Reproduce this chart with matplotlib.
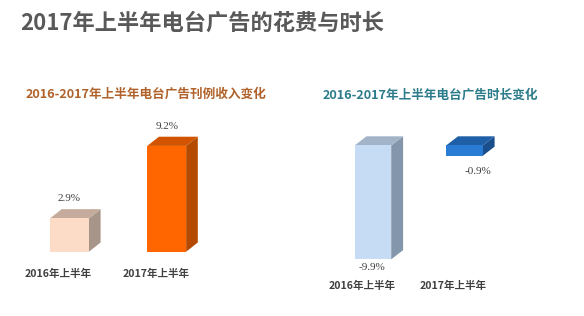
import matplotlib
matplotlib.use("Agg")
import matplotlib.pyplot as plt
from matplotlib.patches import Polygon

plt.rcParams['font.family'] = ['Noto Sans CJK SC', 'DejaVu Sans']

# data
title = '2017年上半年电台广告的花费与时长'
categories = ['2016年上半年', '2017年上半年']

rev_title = '2016-2017年上半年电台广告刊例收入变化'
rev_values = [2.9, 9.2]
rev_labels = ['2.9%', '9.2%']

dur_title = '2016-2017年上半年电台广告时长变化'
dur_values = [-9.9, -0.9]
dur_labels = ['-9.9%', '-0.9%']

W, H = 584, 316
fig = plt.figure(figsize=(W / 100, H / 100), dpi=100)
fig.patch.set_facecolor('white')


def make_axes(box, x0, baseline, px_cat, px_unit):
    # box = (left, top, right, bottom) in pixels; x0 = pixel of category 0
    l, t, r, b = box
    ax = fig.add_axes([l / W, 1 - b / H, (r - l) / W, (b - t) / H])
    ax.set_xlim((l - x0) / px_cat, (r - x0) / px_cat)
    ax.set_ylim((baseline - b) / px_unit, (baseline - t) / px_unit)
    ax.axis('off')
    return ax


def bars3d(ax, values, width, dx, dy, colors):
    for i, v in enumerate(values):
        front, side, top = colors[i]
        hi, lo = max(v, 0), min(v, 0)
        ax.bar(i, v, width=width, color=front, edgecolor='none', zorder=3)
        xr, xl = i + width / 2, i - width / 2
        ax.add_patch(Polygon([(xr, lo), (xr + dx, lo + dy), (xr + dx, hi + dy), (xr, hi)],
                             closed=True, facecolor=side, edgecolor='none', zorder=2))
        ax.add_patch(Polygon([(xl, hi), (xl + dx, hi + dy), (xr + dx, hi + dy), (xr, hi)],
                             closed=True, facecolor=top, edgecolor='none', zorder=2))


# left chart: revenue
ax1 = make_axes((0, 100, 290, 300), 69.5, 251.7, 97.2, 11.5)
bars3d(ax1, rev_values, 0.40, 0.12, 0.8,
       [('#fcdcc6', '#a8958a', '#c4ab9b'), ('#ff6600', '#b44a00', '#d35400')])
for i, (v, s) in enumerate(zip(rev_values, rev_labels)):
    ax1.text(i, v + 1.7, s, ha='center', va='center', fontsize=8,
             family='Liberation Serif', color='#404040')
for i, c in enumerate(categories):
    ax1.annotate(c, (i, -1.94), xytext=(-8, 0), textcoords='offset points',
                 ha='center', va='center', fontsize=7.6, fontweight='bold', color='#404040')

# right chart: duration
ax2 = make_axes((292, 100, 584, 300), 372.9, 145.5, 91.5, 11.5)
bars3d(ax2, dur_values, 0.40, 0.13, 0.8,
       [('#c6dcf4', '#8496ac', '#a3b4c8'), ('#2a7bd4', '#1b4e8c', '#1f5fa8')])
label_dx = [-1, 10]
label_dy = [-0.75, -1.4]
for i, (v, s) in enumerate(zip(dur_values, dur_labels)):
    ax2.annotate(s, (i, v + label_dy[i]), xytext=(label_dx[i], 0), textcoords='offset points',
                 ha='center', va='center', fontsize=8, family='Liberation Serif', color='#404040')
for i, c in enumerate(categories):
    ax2.annotate(c, (i, -12.2), xytext=(-8, 0), textcoords='offset points',
                 ha='center', va='center', fontsize=7.6, fontweight='bold', color='#404040')

# titles
fig.text(20 / W, 1 - 23 / H, title, ha='left', va='center', fontsize=16,
         fontweight='bold', color='#595959')
fig.text(26 / W, 1 - 94 / H, rev_title, ha='left', va='center', fontsize=9.1,
         fontweight='bold', color='#b0622a')
fig.text(323 / W, 1 - 95 / H, dur_title, ha='left', va='center', fontsize=9.1,
         fontweight='bold', color='#2b7b8a')

fig.savefig('out.png', dpi=100, facecolor='white')
